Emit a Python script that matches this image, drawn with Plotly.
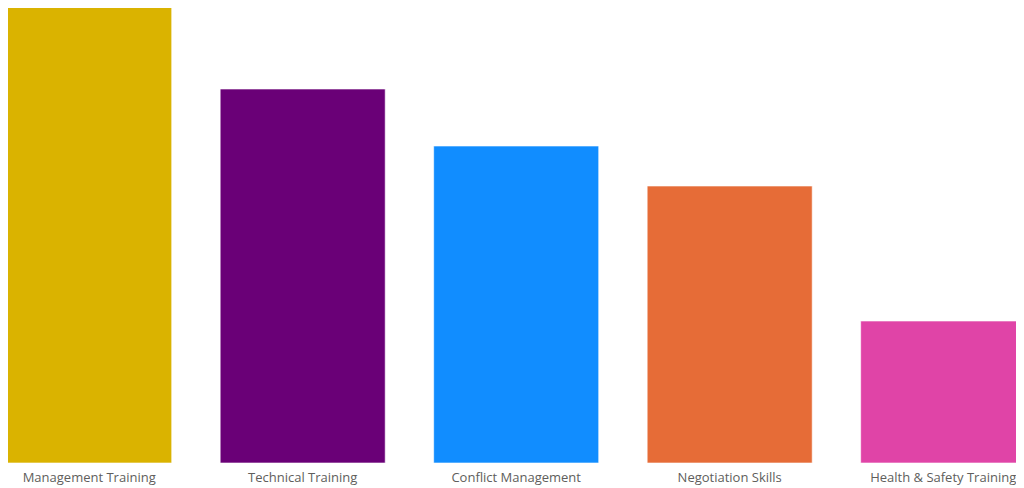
import plotly.graph_objects as go

categories = ["Management Training", "Technical Training", "Conflict Management",
              "Negotiation Skills", "Health & Safety Training"]
values = [45.6, 37.4, 31.7, 27.7, 14.2]
colors = ["#DAB300", "#6A0077", "#118DFF", "#E66C37", "#E044A7"]

fig = go.Figure(go.Bar(
    x=categories, y=values,
    marker=dict(color=colors, line=dict(color="rgba(255,255,255,0.6)", width=1)),
    width=0.773,
    hoverinfo="x+y",
))
fig.update_layout(
    width=1016, height=480,
    margin=dict(l=0, r=0, t=0, b=25),
    paper_bgcolor="white", plot_bgcolor="white",
    showlegend=False,
    font=dict(family="Open Sans, Noto Sans, sans-serif", size=13, color="#605E5C"),
    xaxis=dict(range=[-0.3803, 4.3785], showgrid=False, zeroline=False, showline=False,
               ticks="", ticklabelstandoff=5, tickfont=dict(size=13, color="#605E5C")),
    yaxis=dict(range=[0, 45.5], visible=False, showgrid=False, zeroline=False),
)
fig.write_html("out.html")
